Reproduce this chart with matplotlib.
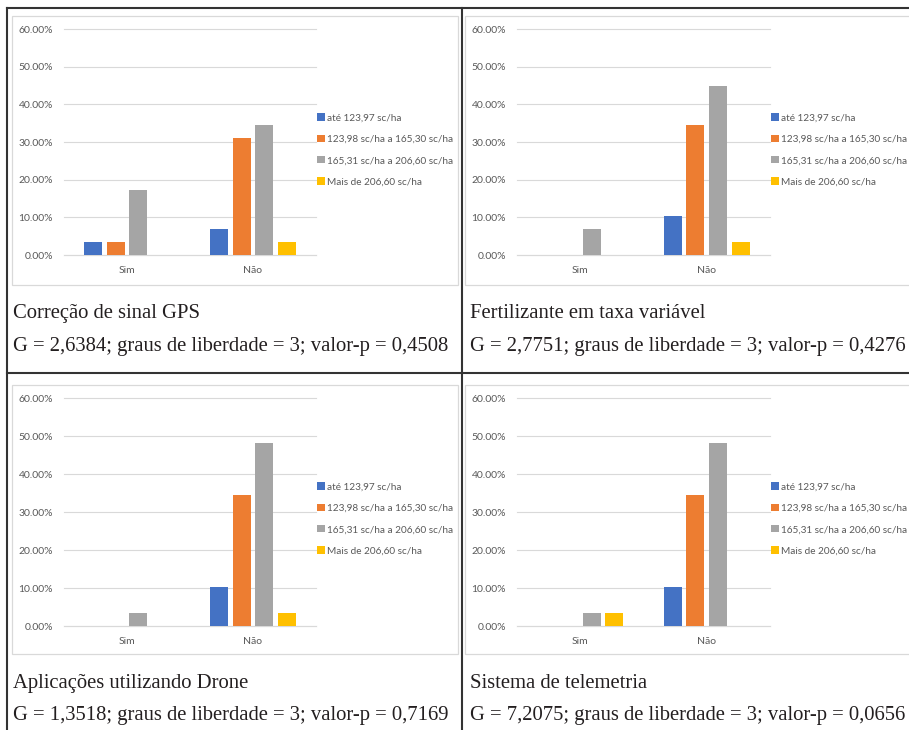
import matplotlib
matplotlib.use("Agg")
import matplotlib.pyplot as plt
from matplotlib.patches import Rectangle
from matplotlib.lines import Line2D
from matplotlib.ticker import FuncFormatter

W, H = 909, 730

categories = ['Sim', 'Não']
series = ['até 123,97 sc/ha', '123,98 sc/ha a 165,30 sc/ha',
          '165,31 sc/ha a 206,60 sc/ha', 'Mais de 206,60 sc/ha']
colors = ['#4472C4', '#ED7D31', '#A5A5A5', '#FFC000']

# percentages per series, [Sim, Não]
gps = [[3.45, 6.90], [3.45, 31.03], [17.24, 34.48], [0.00, 3.45]]
fert = [[0.00, 10.34], [0.00, 34.48], [6.90, 44.83], [0.00, 3.45]]
drone = [[0.00, 10.34], [0.00, 34.48], [3.45, 48.28], [0.00, 3.45]]
telem = [[0.00, 10.34], [0.00, 34.48], [3.45, 48.28], [3.45, 0.00]]

titles = ['Correção de sinal GPS', 'Fertilizante em taxa variável',
          'Aplicações utilizando Drone', 'Sistema de telemetria']
stats = ['G = 2,6384; graus de liberdade = 3; valor-p = 0,4508',
         'G = 2,7751; graus de liberdade = 3; valor-p = 0,4276',
         'G = 1,3518; graus de liberdade = 3; valor-p = 0,7169',
         'G = 7,2075; graus de liberdade = 3; valor-p = 0,0656']
yticks = [0, 10, 20, 30, 40, 50, 60]

plt.rcParams['font.family'] = ['Lato', 'DejaVu Sans']
txt_gray = '#595959'
grid_gray = '#D9D9D9'
line_dark = '#333333'

fig = plt.figure(figsize=(W / 100, H / 100), dpi=100)


def fx(x):
    return x / W


def fy(y):
    return 1 - y / H


# column / row layout in pixels (y measured from top)
cols = [dict(box=(12, 458), ax=(64, 316), cap=13),
        dict(box=(465, 912), ax=(517, 770), cap=470)]
rows = [dict(box=(16, 285), ax=(29, 255), cap=(318, 351)),
        dict(box=(385, 654), ax=(398, 626), cap=(688, 720))]

panels = [gps, fert, drone, telem]
offsets = [-0.27, -0.09, 0.09, 0.27]
bw = 0.143

for k, vals in enumerate(panels):
    c = cols[k % 2]
    r = rows[k // 2]

    # chart frame
    bx0, bx1 = c['box']
    by0, by1 = r['box']
    fig.patches.append(Rectangle((fx(bx0), fy(by1)), fx(bx1 - bx0), (by1 - by0) / H,
                                 transform=fig.transFigure, fill=False,
                                 edgecolor=grid_gray, linewidth=0.9))

    ax0, ax1 = c['ax']
    ay0, ay1 = r['ax']
    ax = fig.add_axes([fx(ax0), fy(ay1), fx(ax1 - ax0), (ay1 - ay0) / H])
    for i, s in enumerate(series):
        xs = [j + offsets[i] for j in range(len(categories))]
        ax.bar(xs, vals[i], width=bw, color=colors[i], label=s, linewidth=0, zorder=3)

    ax.set_xlim(-0.5, 1.5)
    ax.set_ylim(0, 60)
    ax.set_yticks(yticks)
    ax.yaxis.set_major_formatter(FuncFormatter(lambda v, p: f'{v:.2f}%'))
    ax.set_xticks(range(len(categories)))
    ax.set_xticklabels(categories)
    ax.tick_params(axis='both', length=0, labelsize=7.5, labelcolor=txt_gray)
    ax.tick_params(axis='x', pad=8)
    ax.tick_params(axis='y', pad=8)
    ax.grid(axis='y', color=grid_gray, linewidth=0.8, zorder=0)
    for gl in ax.get_ygridlines():
        gl.set_clip_on(False)
    for sp in ['top', 'right', 'left']:
        ax.spines[sp].set_visible(False)
    ax.spines['bottom'].set_color(grid_gray)
    ax.spines['bottom'].set_linewidth(0.8)
    ax.set_facecolor('none')

    leg = ax.legend(loc='center left', bbox_to_anchor=(fx(ax1 + 1), fy(ay0 + 121)),
                    bbox_transform=fig.transFigure, frameon=False, fontsize=7.2,
                    handlelength=0.75, handleheight=0.75, handletextpad=0.25,
                    labelspacing=1.22, borderpad=0, borderaxespad=0)
    for t in leg.get_texts():
        t.set_color(txt_gray)

    # caption lines under each chart
    fig.text(fx(c['cap']), fy(r['cap'][0]), titles[k], family='Liberation Serif',
             fontsize=14.9, color='#231F20', va='baseline', ha='left')
    fig.text(fx(c['cap']), fy(r['cap'][1]), stats[k], family='Liberation Serif',
             fontsize=14.9, color='#231F20', va='baseline', ha='left')

# table rules
for (x0, y0, x1, y1) in [(7, 8, 909, 8), (7, 373, 909, 373),
                         (7, 8, 7, 730), (462, 8, 462, 730)]:
    fig.add_artist(Line2D([fx(x0), fx(x1)], [fy(y0), fy(y1)], transform=fig.transFigure,
                          color=line_dark, linewidth=1.5))

fig.savefig('out.png', dpi=100)
